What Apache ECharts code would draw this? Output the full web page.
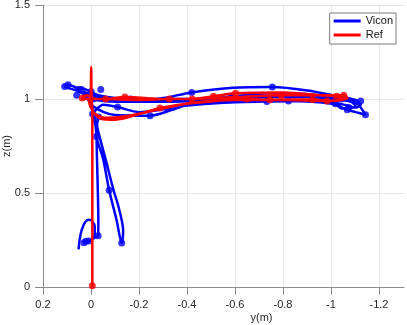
<!DOCTYPE html>
<html>
<head>
<meta charset="utf-8">
<script src="https://cdn.jsdelivr.net/npm/echarts@6/dist/echarts.min.js"></script>
<style>
html, body { margin: 0; padding: 0; background: #fff; }
#chart { width: 407px; height: 325px; }
</style>
</head>
<body>
<div id="chart"></div>
<script>
// Vicon path: y(m) and z(m)
var viconY = [0.052, 0.048, 0.04, 0.025, 0.01, -0.005, -0.015, -0.015, -0.005, 0.01, 0.03, 0.02, 0.0, -0.02, -0.029, -0.03, -0.028, -0.026, -0.024, -0.022, -0.015, 0.0, 0.02,
  0.0, -0.08, -0.2, -0.3, -0.418, -0.59, -0.753, -0.9, -1.02, -1.1, -1.12, -1.1, -1.05, -0.95, -0.82, -0.7, -0.585, -0.45, -0.3, -0.164, -0.06, 0.0, 0.03,
  -0.01, -0.1, -0.242, -0.33, -0.41, -0.5, -0.585, -0.75, -0.9, -1.02, -1.1, -1.14, -1.1, -1.064, -1.0, -0.82, -0.6, -0.4, -0.2, -0.05, 0.02, 0.06, 0.11, 0.096, 0.06, 0.02,
  -0.03, -0.164, -0.3, -0.45, -0.6, -0.75, -0.9, -1.0, -1.08, -1.1, -1.04, -1.015, -0.9, -0.73, -0.55, -0.4, -0.3, -0.2, -0.11, -0.05, -0.01, -0.006,
  -0.02, -0.022, -0.05, -0.075, -0.105, -0.127, -0.133, -0.115, -0.092, -0.06, -0.035, -0.025, -0.031];
var viconZ = [0.2, 0.25, 0.3, 0.345, 0.358, 0.35, 0.32, 0.28, 0.255, 0.245, 0.235, 0.24, 0.25, 0.265, 0.273, 0.35, 0.5, 0.6, 0.7, 0.8, 0.9, 0.97, 1.03,
  1.0, 0.99, 0.99, 1.005, 1.035, 1.06, 1.064, 1.045, 1.015, 0.995, 0.97, 0.955, 0.97, 0.99, 0.99, 0.995, 0.995, 0.99, 0.985, 0.99, 1.0, 1.02, 1.04,
  0.96, 0.915, 0.911, 0.94, 0.975, 1.0, 1.014, 1.03, 1.025, 1.005, 0.98, 0.916, 0.93, 0.943, 0.975, 0.99, 0.99, 0.99, 0.985, 0.99, 1.02, 1.045, 1.067, 1.076, 1.06, 1.05,
  1.02, 1.0, 1.0, 1.0, 1.005, 1.01, 1.01, 1.0, 0.985, 0.96, 0.95, 0.975, 0.99, 0.987, 0.98, 0.965, 0.945, 0.93, 0.957, 0.97, 0.93, 0.92,
  0.85, 0.8, 0.68, 0.514, 0.36, 0.234, 0.3, 0.42, 0.52, 0.68, 0.8, 0.86, 0.904];
var viconMarkY = [-0.127, -0.075, -0.029, 0.022, 0.03, 0.01, -0.022, -0.006, -0.031, 0.096, 0.11, 0.05, 0.0, 0.02, -0.01, -0.164, -0.11, -0.245, -0.418, -0.585, -0.753, -0.73, -0.82, -1.015, -1.064, -1.14, -1.12, -1.04, -1.07, 0.06, 0.04, -0.04];
var viconMarkZ = [0.234, 0.514, 0.273, 0.243, 0.235, 0.245, 0.8, 0.92, 0.904, 1.076, 1.067, 1.05, 1.04, 1.02, 1.0, 1.0, 0.957, 0.911, 1.035, 1.014, 1.064, 0.987, 0.99, 0.975, 0.943, 0.916, 0.99, 1.0, 0.955, 1.02, 1.05, 1.05];

// Ref path
var refY = [-0.005, -0.005, -0.005, -0.002, 0.0, 0.003, 0.02, 0.037, 0.02, -0.02, -0.061, -0.14, -0.3, -0.42, -0.6, -0.79, -0.95, -1.05, -1.065, -1.0, -0.92, -0.742, -0.647, -0.52, -0.4, -0.286, -0.2, -0.1, -0.04, 0.0, 0.01,
  -0.05, -0.2, -0.325, -0.42, -0.508, -0.6, -0.8, -0.95, -1.02, -1.05, -0.98, -0.8, -0.6, -0.42, -0.3, -0.15, -0.06, -0.01, 0.0];
var refZ = [0.0, 0.5, 0.95, 1.0, 1.17, 1.0, 1.0, 1.005, 1.02, 1.0, 1.0, 1.01, 1.0, 1.0, 1.01, 1.02, 1.02, 1.02, 1.005, 0.99, 0.998, 0.996, 1.0, 0.99, 0.975, 0.952, 0.92, 0.89, 0.895, 0.95, 1.0,
  1.0, 0.995, 1.0, 1.0, 1.015, 1.03, 1.035, 1.02, 1.015, 1.0, 0.99, 0.995, 0.995, 0.98, 0.95, 0.91, 0.9, 0.93, 1.0];
var refMarkY = [-0.005, 0.037, -0.061, -0.14, -0.286, -0.325, -0.42, -0.508, -0.6, -0.647, -0.742, -0.79, -0.92, -0.98, -1.02, -1.05];
var refMarkZ = [0.007, 1.005, 1.0, 1.01, 0.952, 1.0, 1.0, 1.015, 1.03, 1.0, 0.996, 1.02, 0.998, 0.99, 1.015, 1.02];

// tick labels
var yTicks = [0.2, 0, -0.2, -0.4, -0.6, -0.8, -1, -1.2];
var zTicks = [0, 0.5, 1, 1.5];

function pairs (a, b) {
  var out = [];
  for (var i = 0; i < a.length; i++) out.push([a[i], b[i]]);
  return out;
}

var blue = '#0000ff';
var red = '#ff0000';
var axisGrey = '#8c8c8c';
var labelColor = '#262626';
var font = 'Liberation Sans, Arial, sans-serif';

var chart = echarts.init(document.getElementById('chart'));
chart.setOption({
  animation: false,
  textStyle: { fontFamily: font },
  grid: [
    { left: 43, right: 3, top: 5, bottom: 38, containLabel: false, outerBoundsMode: 'none' },
    { left: 43, right: 28, top: 5, bottom: 38, containLabel: false, outerBoundsMode: 'none' }
  ],
  legend: {
    data: ['Vicon', 'Ref'],
    orient: 'vertical',
    right: 11,
    top: 13,
    icon: 'rect',
    itemWidth: 27,
    itemHeight: 3,
    itemGap: 2,
    padding: [2, 3, 3, 4],
    borderColor: '#7a7a7a',
    borderWidth: 1,
    backgroundColor: '#fff',
    textStyle: { fontSize: 11, color: '#111', lineHeight: 12, fontFamily: font }
  },
  xAxis: [
    {
      gridIndex: 0,
      type: 'value',
      min: -1.3,
      max: 0.2,
      inverse: true,
      name: 'y(m)',
      nameLocation: 'middle',
      nameGap: 25,
      nameMoveOverlap: false,
      nameTextStyle: { fontSize: 11, color: labelColor, padding: [0, 0, 0, 76] },
      axisLine: { onZero: false, lineStyle: { color: axisGrey, width: 1 } },
      axisTick: { show: false },
      axisLabel: { show: false },
      splitLine: { show: false }
    },
    {
      gridIndex: 1,
      type: 'value',
      min: -1.2,
      max: 0.2,
      interval: 0.2,
      inverse: true,
      axisLine: { show: false, onZero: false },
      axisTick: { show: true, length: 8, lineStyle: { color: axisGrey } },
      axisLabel: {
        fontSize: 11,
        color: labelColor,
        margin: 12,
        formatter: function (v) {
          for (var i = 0; i < yTicks.length; i++) {
            if (Math.abs(yTicks[i] - v) < 1e-6) return String(yTicks[i]);
          }
          return '';
        }
      },
      splitLine: { show: true, lineStyle: { color: '#e6e6e6', width: 1 } }
    }
  ],
  yAxis: [
    {
      gridIndex: 0,
      type: 'value',
      min: 0,
      max: 1.5,
      interval: 0.5,
      name: 'z(m)',
      nameLocation: 'middle',
      nameGap: 31,
      nameMoveOverlap: false,
      nameTextStyle: { fontSize: 11, color: labelColor },
      axisLine: { show: true, onZero: false, lineStyle: { color: axisGrey, width: 1 } },
      axisTick: { show: true, length: 8, lineStyle: { color: axisGrey } },
      axisLabel: {
        fontSize: 11,
        color: labelColor,
        margin: 13,
        formatter: function (v) {
          for (var i = 0; i < zTicks.length; i++) {
            if (Math.abs(zTicks[i] - v) < 1e-6) return String(zTicks[i]);
          }
          return '';
        }
      },
      splitLine: { show: true, lineStyle: { color: '#e6e6e6', width: 1 } }
    },
    {
      gridIndex: 1,
      type: 'value',
      min: 0,
      max: 1.5,
      show: false
    }
  ],
  series: [
    {
      name: 'Vicon',
      type: 'line',
      xAxisIndex: 0,
      yAxisIndex: 0,
      data: pairs(viconY, viconZ),
      showSymbol: false,
      smooth: 0.3,
      color: blue,
      lineStyle: { color: blue, width: 2.5 },
      z: 3
    },
    {
      name: 'Vicon markers',
      type: 'scatter',
      xAxisIndex: 0,
      yAxisIndex: 0,
      data: pairs(viconMarkY, viconMarkZ),
      symbol: 'circle',
      symbolSize: 7,
      itemStyle: { color: blue },
      z: 3
    },
    {
      name: 'Ref',
      type: 'line',
      xAxisIndex: 0,
      yAxisIndex: 0,
      data: pairs(refY, refZ),
      showSymbol: false,
      smooth: 0.3,
      color: red,
      lineStyle: { color: red, width: 2.5 },
      z: 4
    },
    {
      name: 'Ref markers',
      type: 'scatter',
      xAxisIndex: 0,
      yAxisIndex: 0,
      data: pairs(refMarkY, refMarkZ),
      symbol: 'circle',
      symbolSize: 7,
      itemStyle: { color: red },
      z: 4
    }
  ]
});
</script>
</body>
</html>
